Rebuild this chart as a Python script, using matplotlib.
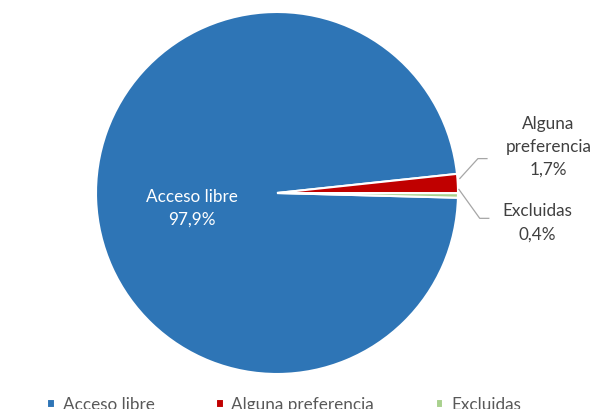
import matplotlib.pyplot as plt
import numpy as np

plt.rcParams['font.family'] = ['Lato', 'DejaVu Sans']

categorias = ['Acceso libre', 'Alguna preferencia', 'Excluidas']
valores = [97.9, 1.7, 0.4]
etiquetas = ['97,9%', '1,7%', '0,4%']
colores = ['#2E75B6', '#C00000', '#A9D18E']

W, H = 595, 410
fig = plt.figure(figsize=(W / 100, H / 100), dpi=100)
cx, cy, r = 277, 194, 181
ax = fig.add_axes([(cx - r) / W, (H - cy - r) / H, 2 * r / W, 2 * r / H])

wedges, _ = ax.pie(valores, colors=colores, startangle=-1.5, counterclock=False,
                   radius=1, wedgeprops=dict(edgecolor='white', linewidth=1.5))
ax.set_xlim(-1, 1)
ax.set_ylim(-1, 1)
ax.set_aspect('equal')
ax.axis('off')

fs = 12.3
ls = 1.55

# etiqueta interior
ax.text(-0.47, -0.08, categorias[0] + '\n' + etiquetas[0], color='white',
        ha='center', va='center', fontsize=fs, linespacing=ls)

# etiquetas exteriores con lineas guia
gris = '#A6A6A6'
ax.plot([1.01, 1.11, 1.16], [0.08, 0.19, 0.19], color=gris, lw=0.9, clip_on=False)
ax.text(1.50, 0.26, 'Alguna\npreferencia\n' + etiquetas[1], color='#404040',
        ha='center', va='center', fontsize=fs, linespacing=ls)
ax.plot([1.005, 1.12, 1.17], [0.02, -0.14, -0.14], color=gris, lw=0.9, clip_on=False)
ax.text(1.44, -0.16, 'Excluidas\n' + etiquetas[2], color='#404040',
        ha='center', va='center', fontsize=fs, linespacing=ls)

fig.legend(wedges, categorias, loc='center', bbox_to_anchor=(284 / W, 4.5 / H),
           ncol=3, frameon=False, fontsize=fs, handlelength=0.45, handleheight=0.45,
           handletextpad=0.45, columnspacing=3.6, labelcolor='#595959')

fig.savefig('out.png', dpi=100)
